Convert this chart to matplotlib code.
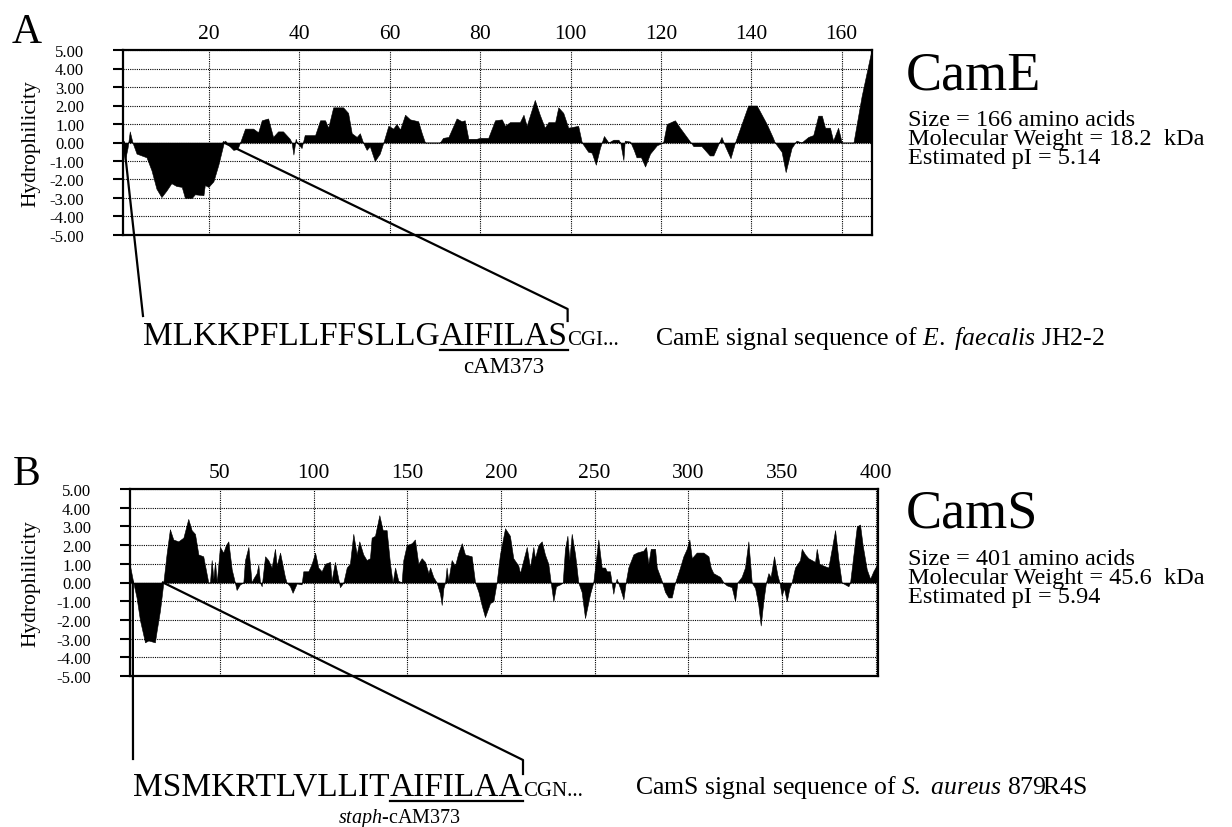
import matplotlib.pyplot as plt
from matplotlib.lines import Line2D

plt.rcParams['font.family'] = ['Liberation Serif', 'DejaVu Serif']
plt.rcParams['mathtext.fontset'] = 'custom'
plt.rcParams['mathtext.rm'] = 'Liberation Serif'
plt.rcParams['mathtext.it'] = 'Liberation Serif:italic'

###### CamE hydrophilicity profile (residue, value)
came_res = [1.0, 1.4, 2.0, 2.5, 3.1, 4.0, 6.2, 7.3, 8.4, 9.5, 10.6, 11.7, 12.8, 14.0, 14.7,
            16.2, 16.9, 18.8, 19.1, 19.9, 21.0, 22.1, 23.3, 23.6, 24.6, 25.4, 26.3, 26.9, 28.0,
            29.8, 30.9, 31.7, 33.1, 34.2, 35.3, 36.4, 37.9, 38.3, 38.7, 39.2, 39.5, 40.5, 41.2,
            43.5, 44.6, 45.7, 46.4, 47.5, 49.7, 50.8, 51.6, 52.7, 53.4, 54.1, 54.9, 55.6, 56.7,
            57.8, 58.6, 59.7, 60.8, 61.5, 62.3, 63.4, 64.5, 66.3, 67.1, 67.8, 71.1, 71.8, 73.0,
            74.8, 75.9, 76.6, 77.4, 79.2, 80.0, 81.8, 83.3, 84.8, 85.5, 86.6, 88.8, 89.6, 90.3,
            92.1, 93.2, 94.3, 95.1, 96.6, 97.3, 98.4, 99.5, 101.7, 102.5, 103.9, 104.7, 105.6,
            106.5, 107.4, 108.4, 109.5, 110.6, 111.0, 111.7, 112.0, 113.2, 114.0, 114.6, 115.6,
            116.5, 117.6, 119.1, 120.5, 121.3, 123.1, 124.2, 125.7, 127.2, 129.0, 130.8, 131.6,
            133.4, 134.2, 135.4, 136.4, 139.3, 141.2, 143.4, 144.7, 145.2, 146.7, 147.6, 148.9,
            149.7, 150.0, 151.1, 152.6, 153.7, 154.8, 155.6, 156.3, 157.4, 158.1, 159.2, 160.0,
            162.6, 164.4, 166.5]
came_val = [0, -1.0, -0.3, 0.6, 0, -0.6, -0.8, -1.5, -2.5, -2.95, -2.6, -2.2, -2.35, -2.4, -3.0,
            -3.0, -2.8, -2.85, -2.3, -2.4, -2.1, -1.2, 0, 0.1, -0.2, -0.4, -0.35, 0, 0.75,
            0.75, 0.55, 1.2, 1.3, 0.3, 0.6, 0.6, 0.2, 0, -0.65, 0.2, 0, -0.3, 0.4,
            0.4, 1.2, 1.2, 0.8, 1.9, 1.9, 1.6, 0.5, 0.3, 0.5, 0, -0.4, -0.2, -1.0,
            -0.6, 0, 0.9, 0.75, 1.0, 0.7, 1.5, 1.25, 1.15, 0.5, 0, 0, 0.25, 0.3,
            1.3, 1.15, 1.2, 0.2, 0.2, 0.25, 0.25, 1.2, 1.25, 0.9, 1.1, 1.1, 1.5, 0.9,
            2.3, 1.5, 0.8, 1.1, 1.1, 1.9, 1.6, 0.8, 0.9, 0, -0.5, -0.55, -1.2,
            -0.3, 0.35, 0, 0.15, 0.15, 0, -0.95, 0.1, 0.05, -0.4, -0.8, -0.8,
            -1.3, -0.6, -0.15, 0, 1.0, 1.2, 0.8, 0.3, -0.2, -0.2, -0.7, -0.7,
            0.3, -0.2, -0.85, 0, 2.0, 2.0, 1.0, 0.3, 0, -0.5, -1.6, -0.3,
            0, 0.1, 0, 0.3, 0.4, 1.45, 1.45, 0.8, 0.8, 0.1, 0.8, 0,
            0, 2.5, 4.9]

###### CamS hydrophilicity profile (residue, value)
cams_res = [2.0, 3.75, 5.5, 7.3, 10.0, 11.8, 13.6, 15.3, 16.2, 18.0, 19.8, 21.5, 23.3, 25.1, 27.8,
            30.5, 33.1, 34.9, 36.7, 38.5, 41.1, 43.8, 44.7, 45.6, 46.5, 47.4, 48.3, 50.0, 51.8,
            53.2, 54.5, 56.3, 58.0, 58.9, 60.7, 62.5, 63.4, 65.2, 66.9, 67.8, 69.6, 70.5, 71.4,
            72.3, 74.1, 75.8, 77.6, 79.4, 80.3, 82.1, 84.7, 85.6, 87.4, 88.8, 91.0, 93.6, 94.5,
            97.2, 99.0, 100.8, 102.5, 104.3, 106.1, 108.8, 109.6, 111.4, 113.2, 114.1, 115.9,
            117.7, 119.4, 121.2, 123.0, 124.4, 126.5, 128.3, 130.1, 131.0, 132.8, 135.1, 136.9,
            139.0, 140.8, 142.2, 143.5, 145.2, 147.0, 147.9, 149.7, 152.4, 154.1, 155.9, 157.7,
            159.5, 161.3, 162.2, 163.9, 165.7, 167.5, 168.4, 169.3, 170.2, 171.0, 171.9, 173.7,
            175.5, 177.3, 179.1, 180.8, 184.4, 186.2, 188.0, 189.7, 191.5, 194.2, 196.0, 197.7,
            199.5, 202.2, 204.8, 206.6, 209.3, 210.2, 212.0, 213.8, 215.5, 217.3, 218.2, 220.0,
            221.8, 223.5, 225.3, 226.6, 228.0, 229.4, 231.6, 233.0, 234.2, 235.5, 236.5, 237.8,
            239.6, 241.3, 243.1, 244.9, 247.6, 249.3, 252.0, 253.8, 255.6, 256.5, 258.2, 259.1,
            260.0, 260.9, 261.8, 263.6, 265.4, 266.6, 268.0, 270.7, 272.5, 276.0, 277.5, 278.7,
            280.0, 282.3, 283.2, 285.8, 287.6, 289.4, 291.2, 293.0, 295.6, 297.4, 299.2, 300.6,
            301.9, 304.5, 308.1, 310.8, 312.0, 313.4, 315.2, 317.0, 318.8, 320.5, 323.2, 325.0,
            326.2, 328.5, 330.3, 332.1, 333.9, 335.7, 337.4, 338.7, 340.1, 341.5, 342.8, 344.0,
            345.8, 347.6, 348.7, 349.9, 351.1, 352.6, 354.0, 355.2, 357.0, 359.7, 360.6, 362.4,
            364.1, 365.9, 367.7, 368.6, 370.0, 372.2, 374.8, 376.6, 378.4, 380.2, 381.9, 383.7,
            385.5, 386.4, 388.2, 390.0, 391.7, 393.1, 395.3, 397.1, 398.8, 401.0]
cams_val = [0.9, 0, -0.8, -2.0, -3.2, -3.1, -3.15, -3.2, -2.6, -1.5, 0, 1.5, 2.85, 2.3, 2.2,
            2.4, 3.4, 2.8, 2.6, 1.5, 1.4, 0, 0, 1.2, 0.2, 1.1, 0, 1.9, 1.6,
            2.0, 2.2, 0.7, 0, -0.4, -0.1, 0, 1.2, 1.9, 0, 0.2, 0.5, 0.95, 0,
            -0.2, 1.4, 1.2, 0.8, 1.8, 0.9, 1.6, 0.3, 0, -0.2, -0.55, -0.05, -0.1, 0.6,
            0.6, 1.0, 1.6, 0.8, 0.6, 1.0, 1.1, 0.1, 1.1, 0.2, -0.25, 0,
            0.8, 1.0, 2.6, 1.5, 2.2, 1.5, 1.2, 1.3, 2.4, 2.5, 3.6, 2.8,
            2.8, 1.0, 0, 0.8, 0.1, 0, 1.2, 2.0, 2.1, 2.3, 1.0, 1.3,
            1.1, 0.5, 0.8, 0.3, 0, -0.6, -1.2, -0.3, 0, 0.8, 0.1, 1.2,
            0.9, 1.6, 2.1, 1.5, 1.4, 0, -0.5, -1.2, -1.85, -1.1, -1.0, 0,
            1.5, 2.9, 2.5, 1.3, 0.9, 0.5, 1.2, 1.9, 0.8, 1.9, 1.3, 2.0,
            2.2, 1.5, 1.0, 0, -1.0, -0.2, -0.1, 0, 1.8, 2.5, 1.2, 2.6,
            1.5, 0, -0.5, -1.9, -0.6, 0, 2.3, 0.8, 0.8, 0.6, 0.6, 0,
            -0.6, -0.1, 0.2, -0.3, -0.9, 0, 0.8, 1.5, 1.6, 1.7, 1.9, 1.0,
            1.8, 1.8, 0.8, 0.1, -0.5, -0.8, -0.8, 0, 0.8, 1.4, 1.8, 2.3,
            1.3, 1.6, 1.6, 1.4, 0.8, 0.5, 0.4, 0.3, 0, -0.15, -0.25, -1.0,
            0, 0.3, 0.8, 2.2, 0, -0.3, -1.2, -2.3, -1.0, 0, 0.5, 0.3,
            1.4, 0.4, 0, -0.7, -0.3, -1.0, -0.3, 0, 0.8, 1.2, 1.8, 1.5,
            1.3, 1.2, 1.1, 1.8, 1.0, 0.9, 0.8, 1.8, 2.8, 1.2, 0, -0.1,
            -0.2, 0, 1.5, 3.0, 3.1, 2.0, 0.7, 0.2, 0.6, 1.0]

yticks = [5, 4, 3, 2, 1, 0, -1, -2, -3, -4, -5]
ylabels = ['5.00', '4.00', '3.00', '2.00', '1.00', '0.00',
           '-1.00', '-2.00', '-3.00', '-4.00', '-5.00']
came_xticks = [20, 40, 60, 80, 100, 120, 140, 160]
cams_xticks = [50, 100, 150, 200, 250, 300, 350, 400]

came_info = ['Size = 166 amino acids', 'Molecular Weight = 18.2  kDa', 'Estimated pI = 5.14']
cams_info = ['Size = 401 amino acids', 'Molecular Weight = 45.6  kDa', 'Estimated pI = 5.94']

W, H = 1232, 828
fig = plt.figure(figsize=(12.32, 8.28), dpi=100)


def profile(left, top, right, bottom, res, val, xticks, xlim):
    ax = fig.add_axes([left / W, 1 - bottom / H, (right - left) / W, (bottom - top) / H])
    ax.fill_between(res, val, 0, facecolor='black', edgecolor='black', lw=0.4, zorder=2)
    ax.set_xlim(xlim)
    ax.set_ylim(-5, 5)
    ax.set_yticks(yticks)
    ax.set_yticklabels(ylabels, fontsize=12)
    ax.set_xticks(xticks)
    ax.set_xticklabels([str(t) for t in xticks], fontsize=15.5)
    ax.xaxis.tick_top()
    ax.tick_params(axis='x', length=0, pad=5)
    ax.tick_params(axis='y', direction='out', length=7, width=1.5, pad=21)
    ax.grid(True, color='black', linestyle=(0, (1, 1)), lw=0.8, zorder=1)
    for s in ax.spines.values():
        s.set_linewidth(1.6)
    return ax


axA = profile(123, 51, 872, 236, came_res, came_val, came_xticks, (1, 166.7))
axB = profile(130, 490, 878, 677, cams_res, cams_val, cams_xticks, (2, 401.3))


def ftext(x, y, s, **kw):
    kw.setdefault('va', 'baseline')
    return fig.text(x / W, 1 - y / H, s, **kw)


ftext(12, 43, 'A', fontsize=30)
ftext(13, 485, 'B', fontsize=30)
fig.text(31 / W, 1 - 143.5 / H, 'Hydrophilicity', rotation=90, ha='center', va='center', fontsize=15.5)
fig.text(31 / W, 1 - 584 / H, 'Hydrophilicity', rotation=90, ha='center', va='center', fontsize=15.5)

# protein info on the right
ftext(906, 89, 'CamE', fontsize=39)
ftext(908, 110.5, '\n'.join(came_info), fontsize=17.5, va='top', linespacing=0.86)
ftext(906, 528, 'CamS', fontsize=39)
ftext(908, 549.5, '\n'.join(cams_info), fontsize=17.5, va='top', linespacing=0.86)

renderer = fig.canvas.get_renderer()


def sequence(x, y, head, core, tail):
    t1 = ftext(x, y, head, fontsize=24)
    b1 = t1.get_window_extent(renderer)
    t2 = fig.text(b1.x1 / W, 1 - y / H, core, va='baseline', fontsize=24)
    b2 = t2.get_window_extent(renderer)
    fig.text(b2.x1 / W, 1 - y / H, tail, va='baseline', fontsize=15)
    return b1, b2


def fline(xs, ys):
    fig.add_artist(Line2D([v / W for v in xs], [1 - v / H for v in ys],
                          transform=fig.transFigure, color='black', lw=1.6))


def data_px(ax, r, v):
    px, py = ax.transData.transform((r, v))
    return px, H - py


# A: signal sequence and links
b1, b2 = sequence(143, 345, 'MLKKPFLLFFSLLG', 'AIFILAS', 'CGI...')
fline([b2.x0, b2.x1], [351, 351])
ftext((b2.x0 + b2.x1) / 2, 373, 'cAM373', fontsize=16.5, ha='center')
ftext(655, 345, r'CamE signal sequence of $\mathit{E.}$ $\mathit{faecalis}$ JH2-2', fontsize=18.5)
sx, sy = data_px(axA, 1.2, 0)
fline([sx, b1.x0], [sy, 317])
sx, sy = data_px(axA, 23.3, 0)
fline([sx, b2.x1, b2.x1], [sy, 310, 322])

# B: signal sequence and links
b1, b2 = sequence(133, 796, 'MSMKRTLVLLIT', 'AIFILAA', 'CGN...')
fline([b2.x0, b2.x1], [802, 802])
ftext(338, 823, r'$\mathit{staph}$-cAM373', fontsize=14.5)
ftext(635, 794, r'CamS signal sequence of $\mathit{S.}$ $\mathit{aureus}$ 879R4S', fontsize=18.5)
sx, sy = data_px(axB, 3.5, 0)
fline([sx, b1.x0], [sy, 760])
sx, sy = data_px(axB, 19.6, 0)
fline([sx, b2.x1, b2.x1], [sy, 761, 775])

fig.savefig('out.png', dpi=100)
